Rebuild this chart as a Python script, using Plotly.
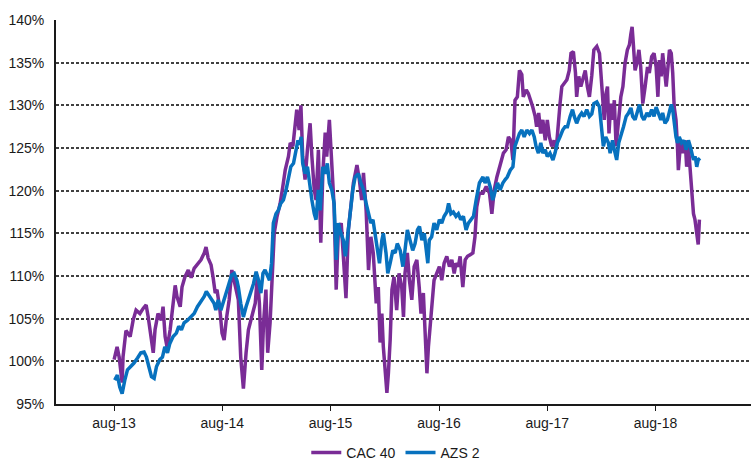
import plotly.graph_objects as go

# CAC 40 (indexed, %)
cac_dates = [
    "2013-08-01","2013-08-11","2013-08-18","2013-08-28","2013-08-31","2013-09-10","2013-09-24","2013-10-04",
    "2013-10-14","2013-10-27","2013-11-07","2013-11-17","2013-11-24","2013-12-04","2013-12-11","2013-12-17",
    "2013-12-27","2014-01-07","2014-01-13","2014-01-20","2014-01-27","2014-02-06","2014-02-16","2014-02-23",
    "2014-03-01","2014-03-12","2014-03-18","2014-03-28","2014-04-08","2014-04-18","2014-04-28","2014-05-08",
    "2014-05-21","2014-06-01","2014-06-07","2014-06-14","2014-06-24","2014-07-01","2014-07-08","2014-07-14",
    "2014-07-24","2014-07-31","2014-08-07","2014-08-14","2014-08-24","2014-09-02","2014-09-13","2014-09-24",
    "2014-10-02","2014-10-11","2014-10-20","2014-10-28","2014-11-08","2014-11-20","2014-11-27","2014-12-04",
    "2014-12-12","2014-12-18","2014-12-26","2015-01-01","2015-01-09","2015-01-15","2015-01-23","2015-02-01",
    "2015-02-12","2015-02-21","2015-03-01","2015-03-12","2015-03-18","2015-03-27","2015-04-03","2015-04-09",
    "2015-04-17","2015-04-23","2015-04-29","2015-05-07","2015-05-15","2015-05-24","2015-05-30","2015-06-07",
    "2015-06-13","2015-06-21","2015-06-29","2015-07-06","2015-07-14","2015-07-19","2015-07-28","2015-08-05",
    "2015-08-13","2015-08-20","2015-08-27","2015-09-06","2015-09-13","2015-09-22","2015-09-30","2015-10-08",
    "2015-10-17","2015-10-29","2015-11-06","2015-11-14","2015-11-20","2015-11-29","2015-12-07","2015-12-15",
    "2015-12-23","2016-01-02","2016-01-09","2016-01-15","2016-01-21","2016-01-26","2016-02-01","2016-02-07",
    "2016-02-12","2016-02-18","2016-02-24","2016-03-02","2016-03-11","2016-03-19","2016-03-28","2016-04-03",
    "2016-04-08","2016-04-16","2016-04-23","2016-05-01","2016-05-09","2016-05-18","2016-05-26","2016-06-01",
    "2016-06-09","2016-06-15","2016-06-21","2016-06-26","2016-07-02","2016-07-07","2016-07-15","2016-07-24",
    "2016-08-02","2016-08-10","2016-08-18","2016-08-27","2016-09-05","2016-09-13","2016-09-21","2016-09-27",
    "2016-10-05","2016-10-11","2016-10-20","2016-10-28","2016-11-05","2016-11-14","2016-11-23","2016-11-30",
    "2016-12-06","2016-12-15","2016-12-27","2017-01-07","2017-01-18","2017-01-26","2017-02-03","2017-02-12",
    "2017-02-23","2017-03-06","2017-03-15","2017-03-23","2017-03-31","2017-04-07","2017-04-14","2017-04-22",
    "2017-04-29","2017-05-07","2017-05-12","2017-05-22","2017-05-29","2017-06-06","2017-06-13","2017-06-21",
    "2017-06-26","2017-07-03","2017-07-10","2017-07-17","2017-07-25","2017-08-01","2017-08-08","2017-08-16",
    "2017-08-24","2017-08-31","2017-09-07","2017-09-13","2017-09-19","2017-09-27","2017-10-06","2017-10-14",
    "2017-10-20","2017-10-28","2017-11-04","2017-11-08","2017-11-15","2017-11-22","2017-12-01","2017-12-07",
    "2017-12-14","2017-12-21","2017-12-29","2018-01-05","2018-01-15","2018-01-24","2018-02-01","2018-02-09",
    "2018-02-15","2018-02-20","2018-02-25","2018-03-03","2018-03-10","2018-03-15","2018-03-21","2018-03-29",
    "2018-04-06","2018-04-13","2018-04-20","2018-04-28","2018-05-05","2018-05-10","2018-05-14","2018-05-18",
    "2018-05-24","2018-05-30","2018-06-06","2018-06-12","2018-06-19","2018-06-27","2018-07-05","2018-07-11",
    "2018-07-19","2018-07-27","2018-08-03","2018-08-09","2018-08-14","2018-08-20","2018-08-25","2018-08-30",
    "2018-09-06","2018-09-11","2018-09-17","2018-09-23","2018-09-28","2018-10-03","2018-10-09","2018-10-14",
    "2018-10-17","2018-10-25","2018-11-01","2018-11-09","2018-11-14","2018-11-20","2018-11-26","2018-12-01",
    "2018-12-07","2018-12-12","2018-12-18","2018-12-23","2018-12-27",
]
cac_values = [
    100.2,101.7,100.5,97.5,100.5,103.6,102.9,104.8,
    106.0,105.6,106.2,106.6,105.2,102.9,101.0,103.7,
    105.6,104.8,106.4,102.9,101.6,103.7,106.8,108.9,
    107.6,106.4,108.7,109.9,110.7,109.8,110.9,111.3,
    111.9,112.7,113.4,112.1,111.3,109.8,108.0,108.4,
    106.0,103.3,102.5,104.8,107.2,110.7,108.7,107.2,
    100.5,96.8,101.0,103.7,105.2,106.8,109.9,106.8,
    99.0,104.5,108.4,101.0,104.5,109.9,115.0,116.9,
    118.5,120.5,122.4,124.0,125.6,125.2,127.9,129.5,
    127.1,130.0,124.0,121.3,124.8,127.9,124.0,120.1,
    118.9,124.8,113.9,122.1,126.8,124.0,128.3,122.4,
    118.1,108.4,115.0,116.2,112.3,107.4,115.4,117.7,
    120.9,123.0,121.3,118.9,122.1,117.7,110.7,114.6,
    112.7,106.8,108.7,102.2,105.6,101.7,98.6,96.3,
    98.6,102.5,108.4,109.9,106.0,110.3,108.7,105.2,
    110.3,112.7,109.5,107.2,111.1,111.9,108.7,105.6,
    108.0,104.1,98.6,101.7,104.1,107.2,109.5,110.3,
    111.1,109.5,111.5,112.3,111.1,111.9,110.3,111.5,
    111.1,112.3,108.7,111.9,112.3,112.5,112.7,114.6,
    118.1,119.7,119.7,120.5,119.7,117.3,120.1,121.6,
    123.2,124.4,124.8,126.3,125.9,123.6,130.6,131.0,
    134.1,133.6,131.0,131.8,131.4,130.6,129.8,128.7,
    127.5,129.1,126.7,128.3,125.9,128.3,126.3,125.2,
    125.9,124.8,128.3,130.2,132.2,132.6,133.0,134.1,
    136.1,136.3,133.8,131.0,133.4,132.2,133.4,134.1,
    132.2,131.0,133.5,136.5,136.9,136.1,132.2,128.3,
    131.4,132.2,126.7,130.2,128.3,130.6,125.2,128.3,
    131.0,132.2,134.9,136.5,137.1,138.4,139.2,137.3,
    134.1,134.9,136.5,134.5,130.2,132.2,134.5,133.8,
    135.7,136.1,134.5,131.0,135.3,133.4,136.1,134.5,
    132.2,134.1,136.5,136.1,133.8,129.8,128.3,125.2,
    122.4,125.9,124.4,125.9,122.8,125.2,122.0,119.7,
    117.3,116.6,115.0,113.7,116.6,
]

# AZS 2 (indexed, %)
azs_dates = [
    "2013-08-03","2013-08-12","2013-08-20","2013-08-28","2013-09-06","2013-09-15","2013-09-26","2013-10-07",
    "2013-10-19","2013-10-30","2013-11-10","2013-11-18","2013-11-26","2013-12-05","2013-12-14","2013-12-22",
    "2014-01-02","2014-01-11","2014-01-19","2014-01-28","2014-02-05","2014-02-16","2014-02-27","2014-03-07",
    "2014-03-16","2014-03-25","2014-04-05","2014-04-17","2014-04-28","2014-05-09","2014-05-20","2014-06-01",
    "2014-06-08","2014-06-16","2014-06-25","2014-07-04","2014-07-10","2014-07-18","2014-07-27","2014-08-04",
    "2014-08-11","2014-08-20","2014-09-01","2014-09-10","2014-09-19","2014-09-24","2014-10-02","2014-10-11",
    "2014-10-20","2014-10-28","2014-11-05","2014-11-14","2014-11-23","2014-12-01","2014-12-09","2014-12-16",
    "2014-12-23","2014-12-31","2015-01-07","2015-01-14","2015-01-20","2015-01-29","2015-02-06","2015-02-14",
    "2015-02-23","2015-03-04","2015-03-12","2015-03-20","2015-03-29","2015-04-06","2015-04-13","2015-04-18",
    "2015-04-24","2015-04-29","2015-05-07","2015-05-15","2015-05-24","2015-05-30","2015-06-07","2015-06-13",
    "2015-06-21","2015-06-27","2015-07-06","2015-07-14","2015-07-21","2015-07-28","2015-08-05","2015-08-13",
    "2015-08-20","2015-08-27","2015-09-05","2015-09-13","2015-09-20","2015-09-27","2015-10-06","2015-10-15",
    "2015-10-23","2015-11-03","2015-11-11","2015-11-20","2015-11-29","2015-12-07","2015-12-15","2015-12-22",
    "2015-12-29","2016-01-06","2016-01-13","2016-01-21","2016-01-26","2016-02-04","2016-02-10","2016-02-18",
    "2016-02-27","2016-03-06","2016-03-13","2016-03-23","2016-04-01","2016-04-08","2016-04-16","2016-04-25",
    "2016-05-04","2016-05-12","2016-05-20","2016-05-27","2016-06-04","2016-06-12","2016-06-18","2016-06-24",
    "2016-06-29","2016-07-07","2016-07-15","2016-07-24","2016-08-02","2016-08-10","2016-08-18","2016-08-27",
    "2016-09-02","2016-09-10","2016-09-18","2016-09-27","2016-10-05","2016-10-13","2016-10-22","2016-10-31",
    "2016-11-08","2016-11-16","2016-11-25","2016-12-04","2016-12-12","2016-12-15","2016-12-27","2017-01-03",
    "2017-01-11","2017-01-20","2017-01-29","2017-02-06","2017-02-14","2017-02-23","2017-03-04","2017-03-12",
    "2017-03-19","2017-03-29","2017-04-07","2017-04-14","2017-04-22","2017-04-29","2017-05-07","2017-05-15",
    "2017-05-24","2017-06-02","2017-06-10","2017-06-18","2017-06-24","2017-07-02","2017-07-10","2017-07-17",
    "2017-07-25","2017-08-01","2017-08-10","2017-08-20","2017-08-27","2017-09-04","2017-09-13","2017-09-22",
    "2017-09-30","2017-10-08","2017-10-17","2017-10-25","2017-10-31","2017-11-08","2017-11-17","2017-11-25",
    "2017-12-03","2017-12-12","2017-12-21","2017-12-29","2018-01-05","2018-01-15","2018-01-24","2018-02-01",
    "2018-02-06","2018-02-14","2018-02-23","2018-03-01","2018-03-09","2018-03-15","2018-03-23","2018-03-30",
    "2018-04-06","2018-04-15","2018-04-24","2018-05-02","2018-05-10","2018-05-16","2018-05-24","2018-06-01",
    "2018-06-08","2018-06-16","2018-06-23","2018-07-03","2018-07-11","2018-07-19","2018-07-27","2018-08-03",
    "2018-08-11","2018-08-19","2018-08-25","2018-09-02","2018-09-10","2018-09-17","2018-09-23","2018-09-28",
    "2018-10-04","2018-10-09","2018-10-14","2018-10-20","2018-10-28","2018-11-05","2018-11-12","2018-11-20",
    "2018-11-26","2018-12-01","2018-12-07","2018-12-13","2018-12-18","2018-12-23","2018-12-29",
]
azs_values = [
    97.8,98.4,97.0,96.2,97.8,99.0,99.4,99.8,
    100.4,101.0,101.1,100.5,99.4,98.2,98.0,99.4,
    100.2,100.5,101.7,101.0,102.1,102.9,103.3,104.1,
    103.7,104.5,104.8,105.2,105.6,106.4,107.0,107.6,
    108.2,107.8,107.2,106.8,106.0,107.2,106.0,106.8,
    107.6,108.7,110.1,110.3,109.5,108.7,106.8,105.2,
    106.4,107.2,108.0,109.1,110.5,109.5,108.0,110.3,
    110.7,109.9,109.5,111.5,116.2,117.3,117.7,118.5,
    118.9,120.1,121.6,122.8,123.2,124.8,125.9,125.4,
    126.3,123.2,122.0,122.8,120.1,118.9,117.3,116.6,
    120.1,117.7,122.8,122.0,123.2,120.9,120.1,118.5,
    111.9,116.2,115.0,114.2,112.3,114.6,117.0,120.1,
    121.6,122.0,120.9,120.1,118.5,117.3,116.2,116.6,
    115.0,113.4,111.5,114.2,115.0,112.7,110.3,111.5,
    113.0,112.7,113.8,113.0,111.1,113.0,115.4,114.2,
    113.0,113.8,115.4,115.8,114.2,115.0,113.4,111.5,
    114.2,114.6,116.2,115.4,116.6,116.2,117.0,117.5,
    118.5,117.3,117.5,117.0,117.3,116.6,117.0,115.4,
    116.2,116.6,117.0,118.9,120.5,120.9,121.6,120.9,
    121.6,120.5,118.9,120.1,120.9,120.1,120.9,121.3,
    121.6,122.4,122.8,125.2,125.9,126.7,127.1,126.3,
    127.1,126.7,127.1,126.3,125.2,124.4,125.6,124.4,
    124.8,124.0,124.4,123.6,124.4,125.6,126.3,127.1,
    127.5,127.5,128.7,129.5,128.7,127.9,128.7,129.1,
    128.7,129.5,128.7,129.0,130.2,130.4,129.8,126.7,
    125.2,126.3,125.6,124.4,125.9,124.8,123.6,125.6,
    126.3,127.5,128.7,129.1,129.7,128.7,128.3,129.1,
    130.1,128.7,128.3,129.1,128.7,129.5,128.7,129.8,
    129.1,128.3,129.1,127.9,128.3,129.5,130.1,129.5,
    127.5,126.3,125.6,126.3,125.6,125.9,124.8,125.9,
    125.2,124.4,123.6,124.0,122.8,123.6,123.8,
]

tick_dates = ["2013-08-01","2014-08-01","2015-08-01","2016-08-01","2017-08-01","2018-08-01"]
tick_labels = ["aug-13","aug-14","aug-15","aug-16","aug-17","aug-18"]
y_ticks = [95,100,105,110,115,120,125,130,135,140]
y_labels = [f"{v}%" for v in y_ticks]

PURPLE = "#7A2C96"
BLUE = "#0771BE"
FONT = "Liberation Sans, Arial, sans-serif"

fig = go.Figure()
fig.add_trace(go.Scatter(x=cac_dates, y=cac_values, mode="lines", name="CAC 40",
                         line=dict(color=PURPLE, width=3.5)))
fig.add_trace(go.Scatter(x=azs_dates, y=azs_values, mode="lines", name="AZS 2",
                         line=dict(color=BLUE, width=3.5)))

fig.update_layout(
    width=751, height=461, autosize=False,
    margin=dict(l=56, r=0, t=20, b=57),
    paper_bgcolor="white", plot_bgcolor="white",
    font=dict(family=FONT, size=14, color="#1a1a1a"),
    showlegend=True,
    legend=dict(orientation="h", xref="container", yref="container",
                x=0.527, xanchor="center", y=0.0174, yanchor="middle",
                font=dict(size=14, family=FONT), itemwidth=30, traceorder="normal"),
    xaxis=dict(
        type="date", range=["2013-01-17", "2019-06-19"],
        tickvals=tick_dates, ticktext=tick_labels,
        showgrid=False, zeroline=False,
        showline=True, linecolor="#1a1a1a", linewidth=2,
        ticks="outside", ticklen=5, tickcolor="#1a1a1a", tickwidth=1,
        automargin=False,
    ),
    yaxis=dict(
        range=[95, 140], tickvals=y_ticks, ticktext=y_labels,
        showgrid=True, gridcolor="#404040", gridwidth=1.5, griddash="3px,2px",
        zeroline=False, showline=True, linecolor="#1a1a1a", linewidth=2,
        ticks="", ticklabelstandoff=7, automargin=False,
    ),
)

fig.write_html(
    "out.html",
    config={"responsive": False, "displayModeBar": False},
    default_width="751px", default_height="461px",
    post_script="document.body.style.margin='0';document.body.style.overflow='hidden';",
)
